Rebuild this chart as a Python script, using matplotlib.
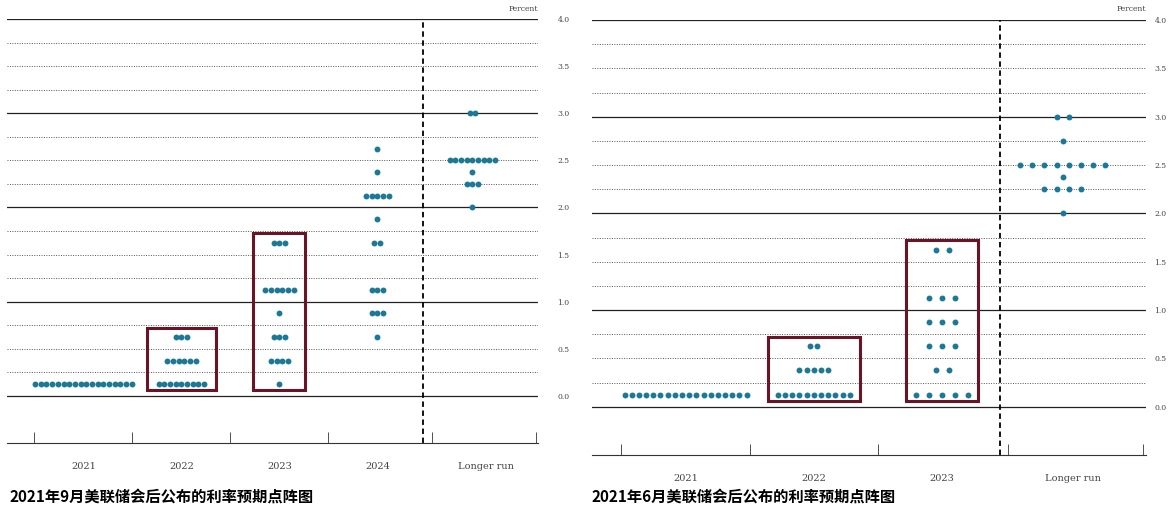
import matplotlib
matplotlib.use("Agg")
import matplotlib.pyplot as plt
from matplotlib.patches import Rectangle
import numpy as np

plt.rcParams['font.family'] = ['Noto Sans CJK SC', 'DejaVu Sans']

# Sept 2021 dot plot: {level: count}
sep_cats = ["2021", "2022", "2023", "2024", "Longer run"]
sep_2021 = {0.125: 18}
sep_2022 = {0.125: 9, 0.375: 6, 0.625: 3}
sep_2023 = {0.125: 1, 0.375: 4, 0.625: 3, 0.875: 1, 1.125: 6, 1.625: 3}
sep_2024 = {0.625: 1, 0.875: 3, 1.125: 3, 1.625: 2, 1.875: 1, 2.125: 5, 2.375: 1, 2.625: 1}
sep_lr = {2.0: 1, 2.25: 3, 2.375: 1, 2.5: 9, 3.0: 2}

# June 2021 dot plot
jun_cats = ["2021", "2022", "2023", "Longer run"]
jun_2021 = {0.125: 18}
jun_2022 = {0.125: 11, 0.375: 5, 0.625: 2}
jun_2023 = {0.125: 5, 0.375: 2, 0.625: 3, 0.875: 3, 1.125: 3, 1.625: 2}
jun_lr = {2.0: 1, 2.25: 4, 2.375: 1, 2.5: 8, 2.75: 1, 3.0: 2}

DOT = "#1b7896"
BOX = "#6b1426"

fig = plt.figure(figsize=(11.69, 5.25), dpi=100)

def panel(rect, cats, data, xpos, labpos, spacing, xlim, dashx, boxed, boxpad,
          ypad, caption, capx):
    ax = fig.add_axes(rect)
    ax.set_xlim(*xlim)
    ax.set_ylim(-0.5, 4.0)
    for lv in np.arange(0, 4.01, 0.25):
        if abs(lv - round(lv)) < 1e-9:
            ax.axhline(lv, color="#222222", lw=0.9, zorder=1)
        else:
            ax.axhline(lv, color="#555555", lw=0.7, ls=(0, (1, 1.5)), zorder=1)
    ax.axvline(dashx, color="black", lw=1.3, ls=(0, (3, 2)), zorder=2)
    for i, (d, x0, sp) in enumerate(zip(data, xpos, spacing)):
        allx, ally = [], []
        for lv, n in d.items():
            xs = x0 + (np.arange(n) - (n - 1) / 2) * sp
            ax.scatter(xs, [lv] * n, s=18, color=DOT, zorder=3, lw=0)
            allx += list(xs); ally += [lv] * n
        if i in boxed:
            x1, x2 = min(allx) - boxpad, max(allx) + boxpad
            y1, y2 = min(ally) - 0.065, max(ally) + 0.1
            ax.add_patch(Rectangle((x1, y1), x2 - x1, y2 - y1, fill=False,
                                   ec=BOX, lw=2.2, zorder=4))
    for s in ["top", "left", "right"]:
        ax.spines[s].set_visible(False)
    ax.spines["bottom"].set_color("#333333")
    ax.set_xticks(labpos)
    ax.set_xticklabels(cats, family="DejaVu Serif", fontsize=7, color="#444444")
    ax.tick_params(axis="x", length=0, pad=14)
    bounds = [labpos[0] - 0.5] + [(a + b) / 2 for a, b in zip(labpos[:-1], labpos[1:])] + [xlim[1] - 0.02]
    ax.set_xticks(bounds, minor=True)
    ax.tick_params(axis="x", which="minor", direction="in", length=8, color="#333333")
    ax.yaxis.tick_right()
    ax.set_yticks(np.arange(0, 4.01, 0.5))
    ax.set_yticklabels([f"{v:.1f}" for v in np.arange(0, 4.01, 0.5)],
                       family="DejaVu Serif", fontsize=5.5, color="#444444")
    ax.tick_params(axis="y", length=0, pad=ypad)
    ax.text(1.0, 1.015, "Percent", transform=ax.transAxes, ha="right", va="bottom",
            family="DejaVu Serif", fontsize=5.5, color="#444444")
    fig.text(capx, 0.045, caption, fontsize=11, fontweight="bold", ha="left")
    return ax

panel([7/1169, 82/525, 531/1169, 424/525], sep_cats,
      [sep_2021, sep_2022, sep_2023, sep_2024, sep_lr],
      [0, 1, 2, 3, 3.97], [0, 1, 2, 3, 4.11], [0.058] * 5, (-0.78, 4.64), 3.47,
      [1, 2], 0.12, 14,
      "2021年9月美联储会后公布的利率预期点阵图", 10/1169)

panel([592/1169, 70/525, 554/1169, 435/525], jun_cats,
      [jun_2021, jun_2022, jun_2023, jun_lr],
      [0, 1, 2, 2.94], [0, 1, 2, 3.02], [0.056, 0.056, 0.1, 0.095], (-0.73, 3.59), 2.45,
      [1, 2], 0.08, 6,
      "2021年6月美联储会后公布的利率预期点阵图", 592/1169)

fig.savefig("out.png", dpi=100, facecolor="white")
